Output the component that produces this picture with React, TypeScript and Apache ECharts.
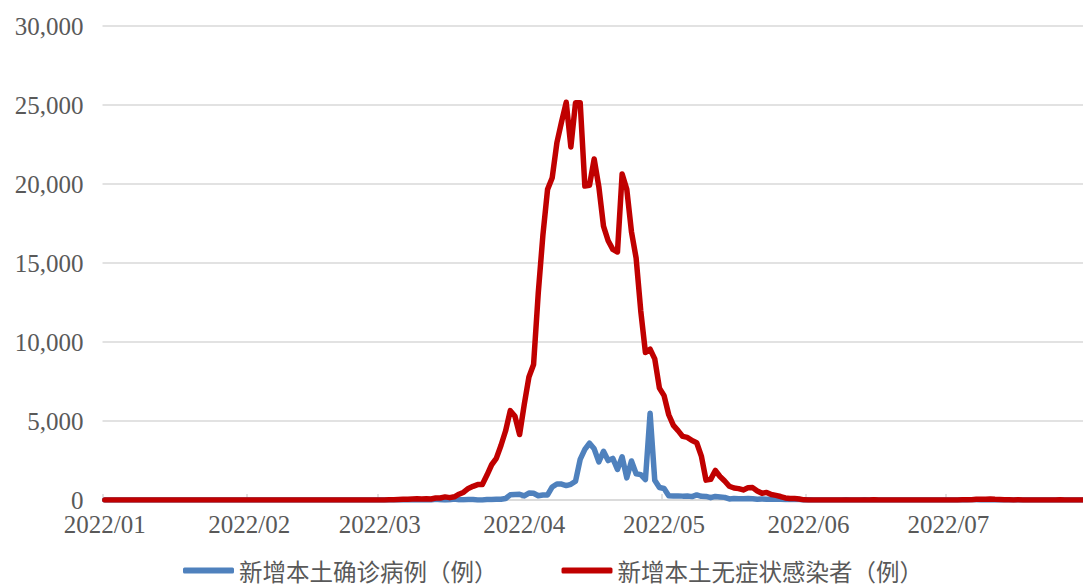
import React, { useEffect, useRef } from "react";
import * as echarts from "echarts";

// Month tick labels and days per month (2022/01 – 2022/07)
const monthLabels = ["2022/01", "2022/02", "2022/03", "2022/04", "2022/05", "2022/06", "2022/07"];
const daysInMonth = [31, 28, 31, 30, 31, 30, 31];

const seriesNames = ["新增本土确诊病例（例）", "新增本土无症状感染者（例）"];

// 新增本土确诊病例（例） – daily values by month
const confirmedJan = [0, 0, 0, 0, 0, 0, 0, 0, 0, 0, 0, 0, 1, 0, 0, 0, 0, 0, 0, 0, 0, 1, 0, 0, 0, 0, 0, 0, 0, 0, 0];
const confirmedFeb = [0, 0, 0, 0, 0, 0, 0, 0, 0, 0, 0, 0, 0, 0, 0, 0, 0, 0, 0, 1, 0, 0, 0, 0, 0, 1, 0, 0];
const confirmedMar = [1, 0, 2, 3, 0, 3, 4, 3, 4, 11, 5, 1, 41, 9, 5, 8, 57, 8, 17, 24, 31, 4, 4, 29, 38, 45, 50, 96, 326, 355, 358];
const confirmedApr = [260, 438, 425, 268, 311, 322, 824, 1015, 1006, 914, 994, 1189, 2573, 3200, 3590, 3238, 2417, 3084, 2494, 2634, 1931, 2736, 1401, 2472, 1661, 1606, 1292, 5487, 1249, 788];
const confirmedMay = [727, 274, 260, 261, 245, 253, 215, 322, 234, 228, 144, 227, 194, 166, 69, 96, 82, 82, 88, 84, 52, 58, 55, 44, 48, 45, 39, 29, 31, 29, 5];
const confirmedJun = [15, 6, 2, 4, 4, 4, 3, 4, 11, 3, 2, 5, 12, 3, 11, 5, 2, 2, 2, 3, 0, 2, 0, 1, 3, 1, 0, 1, 2, 0];
const confirmedJul = [0, 3, 5, 7, 7, 14, 11, 7, 2, 5, 5, 4, 1, 1, 0, 3, 2, 1, 1, 0, 1, 2, 3, 3, 2, 3, 1, 2, 1, 3, 2];

// 新增本土无症状感染者（例） – daily values by month
const asymJan = [0, 0, 0, 0, 0, 0, 0, 0, 0, 0, 0, 0, 2, 1, 0, 0, 0, 0, 0, 0, 0, 3, 1, 0, 0, 0, 0, 0, 0, 0, 0];
const asymFeb = [0, 0, 0, 0, 0, 0, 0, 0, 0, 0, 0, 0, 0, 0, 0, 0, 0, 0, 1, 2, 3, 1, 0, 2, 7, 1, 2, 3];
const asymMar = [1, 2, 14, 16, 28, 45, 51, 62, 76, 64, 78, 64, 128, 130, 197, 150, 203, 366, 492, 734, 865, 977, 979, 1580, 2231, 2631, 3450, 4381, 5656, 5298, 4144];
const asymApr = [6051, 7788, 8581, 13086, 16766, 19660, 20398, 22609, 23937, 25173, 22348, 25141, 25146, 19872, 19923, 21582, 19831, 17332, 16407, 15861, 15698, 20634, 19657, 16983, 15319, 11956, 9330, 9545, 8932, 7084];
const asymMay = [6606, 5395, 4722, 4390, 4024, 3961, 3760, 3625, 2780, 1259, 1305, 1869, 1487, 1203, 869, 759, 719, 637, 770, 784, 570, 422, 480, 343, 290, 219, 131, 93, 98, 64, 10];
const asymJun = [4, 2, 3, 1, 2, 4, 6, 7, 7, 4, 3, 1, 2, 1, 8, 4, 1, 3, 2, 1, 0, 3, 1, 2, 2, 4, 1, 1, 2, 4];
const asymJul = [2, 6, 7, 17, 17, 10, 43, 52, 55, 64, 47, 37, 14, 8, 6, 10, 4, 3, 6, 4, 2, 4, 2, 3, 8, 3, 1, 4, 7, 4, 3];

const confirmed = [
  ...confirmedJan, ...confirmedFeb, ...confirmedMar, ...confirmedApr,
  ...confirmedMay, ...confirmedJun, ...confirmedJul,
];
const asymptomatic = [
  ...asymJan, ...asymFeb, ...asymMar, ...asymApr,
  ...asymMay, ...asymJun, ...asymJul,
];

// daily categories, e.g. "2022/01/01"
const categories: string[] = monthLabels.flatMap((m, i) =>
  Array.from({ length: daysInMonth[i] }, (_, d) => `${m}/${String(d + 1).padStart(2, "0")}`)
);

const isMonthStart = (_idx: number, value: string) => value.endsWith("/01");

export default function App() {
  const ref = useRef<HTMLDivElement>(null);

  useEffect(() => {
    if (!ref.current) return;
    const chart = echarts.init(ref.current, null, { renderer: "svg" });
    const gray = "#595959";
    const lineGray = "#D9D9D9";
    chart.setOption({
      animation: false,
      backgroundColor: "#ffffff",
      grid: { left: 102.5, top: 26, width: 988, height: 474, containLabel: false },
      legend: {
        left: 178,
        top: 553,
        padding: 5,
        itemGap: 64,
        itemWidth: 51,
        itemHeight: 6,
        icon: "roundRect",
        textStyle: { fontSize: 23.5, lineHeight: 25, color: gray, fontFamily: "Noto Sans CJK SC" },
        data: [seriesNames[0], seriesNames[1]],
      },
      xAxis: {
        type: "category",
        data: categories,
        boundaryGap: true,
        axisLine: { show: true, lineStyle: { color: lineGray, width: 1.5 } },
        axisTick: {
          show: true,
          inside: true,
          length: 6,
          interval: isMonthStart,
          lineStyle: { color: lineGray, width: 1.5 },
        },
        axisLabel: {
          interval: isMonthStart,
          formatter: (v: string) => v.slice(0, 7),
          color: gray,
          fontSize: 25,
          fontFamily: "Liberation Serif",
          margin: 12,
        },
        splitLine: { show: false },
      },
      yAxis: {
        type: "value",
        min: 0,
        max: 30000,
        interval: 5000,
        axisLine: { show: false },
        axisTick: { show: false },
        axisLabel: {
          color: gray,
          fontSize: 25,
          fontFamily: "Liberation Serif",
          margin: 19,
          formatter: (v: number) => v.toLocaleString("en-US"),
        },
        splitLine: { lineStyle: { color: lineGray, width: 1.5 } },
      },
      series: [
        {
          name: seriesNames[0],
          type: "line",
          data: confirmed,
          symbol: "none",
          lineStyle: { color: "#4F81BD", width: 5.5, cap: "round", join: "round" },
          itemStyle: { color: "#4F81BD" },
        },
        {
          name: seriesNames[1],
          type: "line",
          data: asymptomatic,
          symbol: "none",
          lineStyle: { color: "#C00000", width: 5.5, cap: "round", join: "round" },
          itemStyle: { color: "#C00000" },
        },
      ],
    });
    return () => chart.dispose();
  }, []);

  return (
    <div
      style={{
        position: "absolute",
        left: 0,
        top: 0,
        width: 1083,
        height: 586,
        overflow: "hidden",
        background: "#fff",
      }}
    >
      <div ref={ref} style={{ width: 1100, height: 586 }} />
    </div>
  );
}
